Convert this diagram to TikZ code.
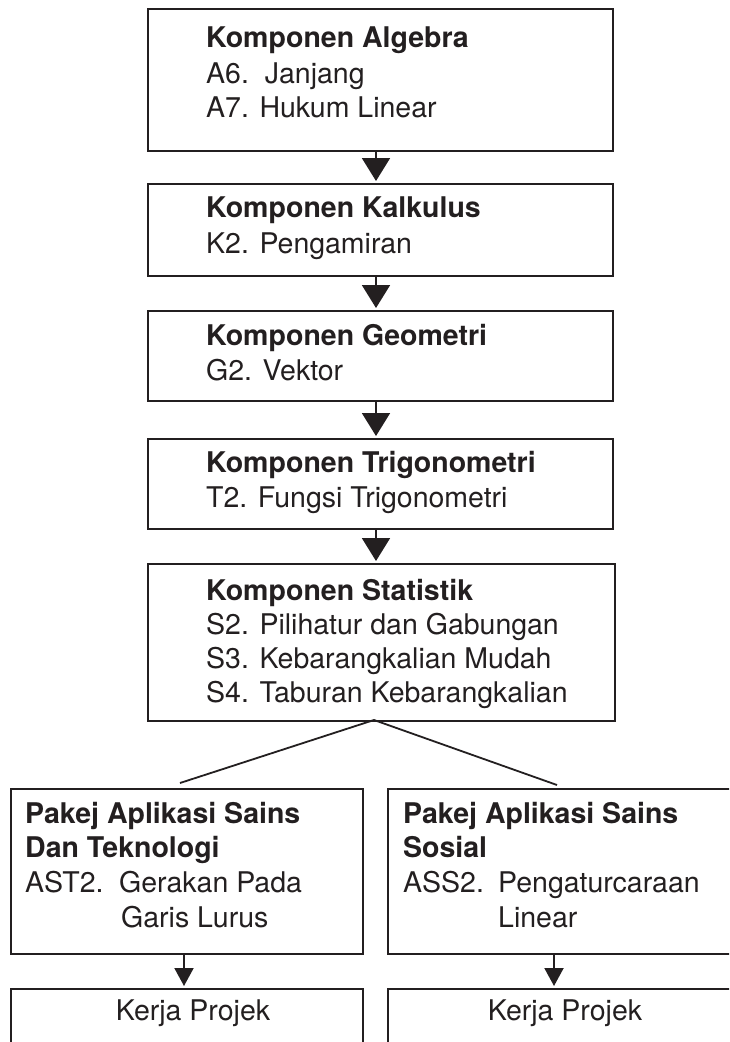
\documentclass[tikz,border=0pt]{standalone}
\usepackage{fontspec}
\setmainfont{TeX Gyre Heros}
\usetikzlibrary{arrows.meta}
\definecolor{ink}{HTML}{231F20}
\begin{document}
\begin{tikzpicture}[x=1pt,y=-1pt,
  every node/.style={font=\fontsize{28.5}{34}\selectfont, text=ink},
  box/.style={draw=ink, line width=2.2pt, rectangle, anchor=north west, inner sep=0pt},
  txt/.style={anchor=base west, inner sep=0pt},
  ctxt/.style={anchor=base, inner sep=0pt},
  arr/.style={draw=ink, line width=2pt, -{Triangle[length=23pt,width=28pt]}, shorten >=2pt},
  sarr/.style={draw=ink, line width=2pt, -{Triangle[length=18pt,width=19pt]}, shorten >=2pt},
  branch/.style={draw=ink, line width=1.8pt}]
\useasboundingbox (0,0) rectangle (729,1042);
\clip (0,0) rectangle (729,1042);
\fill[white] (0,0) rectangle (729,1042);

% main column boxes
\node[box, minimum width=465pt, minimum height=142pt] (A) at (147,8) {};
\node[box, minimum width=465pt, minimum height=92pt] (K) at (147,183) {};
\node[box, minimum width=465pt, minimum height=90pt] (G) at (147,310) {};
\node[box, minimum width=465pt, minimum height=90pt] (T) at (147,438) {};
\node[box, minimum width=467pt, minimum height=157pt] (S) at (147,563) {};

% texts
\node[txt] (a1) at (206,47) {\bfseries Komponen Algebra};
\node[txt] (a2) at (206,83) {A6.\ \ Janjang};
\node[txt] (a3) at (206,117) {A7. Hukum Linear};
\node[txt] (k1) at (206,217) {\bfseries Komponen Kalkulus};
\node[txt] (k2) at (206,253) {K2. Pengamiran};
\node[txt] (g1) at (206,345) {\bfseries Komponen Geometri};
\node[txt] (g2) at (206,380) {G2. Vektor};
\node[txt] (t1) at (206,472) {\bfseries Komponen Trigonometri};
\node[txt] (t2) at (206,507) {T2. Fungsi Trigonometri};
\node[txt] (s1) at (206,600) {\bfseries Komponen Statistik};
\node[txt] (s2) at (206,634) {S2. Pilihatur dan Gabungan};
\node[txt] (s3) at (206,668) {S3. Kebarangkalian Mudah};
\node[txt] (s4) at (206,702) {S4. Taburan Kebarangkalian};

% arrows down the column
\coordinate (ax) at (376,0);
\draw[arr] (A.south -| ax) -- (K.north -| ax);
\draw[arr] (K.south -| ax) -- (G.north -| ax);
\draw[arr] (G.south -| ax) -- (T.north -| ax);
\draw[arr] (T.south -| ax) -- (S.north -| ax);

% branch
\coordinate (apex) at (374,720);
\coordinate (bl) at (180,783);
\coordinate (br) at (557,785);
\draw[branch] (bl) -- (apex) -- (br);

% bottom boxes
\node[box, minimum width=352pt, minimum height=165pt] (L) at (10,788) {};
\node[box, minimum width=352pt, minimum height=165pt] (R) at (387,788) {};
\node[box, minimum width=352pt, minimum height=100pt] (LK) at (10,988) {};
\node[box, minimum width=352pt, minimum height=100pt] (RK) at (387,988) {};

\node[txt] (l1) at (25,823) {\bfseries Pakej Aplikasi Sains};
\node[txt] (l2) at (25,857) {\bfseries Dan Teknologi};
\node[txt] (l3) at (25,892) {AST2.};
\node[txt] (l4) at (119,892) {Gerakan Pada};
\node[txt] (l5) at (121,927) {Garis Lurus};

\node[txt] (r1) at (403,823) {\bfseries Pakej Aplikasi Sains};
\node[txt] (r2) at (403,857) {\bfseries Sosial};
\node[txt] (r3) at (403,892) {ASS2.};
\node[txt] (r4) at (498,892) {Pengaturcaraan};
\node[txt] (r5) at (498,927) {Linear};

\node[ctxt] (lk) at (193,1020) {Kerja Projek};
\node[ctxt] (rk) at (565,1020) {Kerja Projek};

\coordinate (lx) at (184,0);
\coordinate (rx) at (554,0);
\draw[sarr] (L.south -| lx) -- (LK.north -| lx);
\draw[sarr] (R.south -| rx) -- (RK.north -| rx);
\end{tikzpicture}
\end{document}
